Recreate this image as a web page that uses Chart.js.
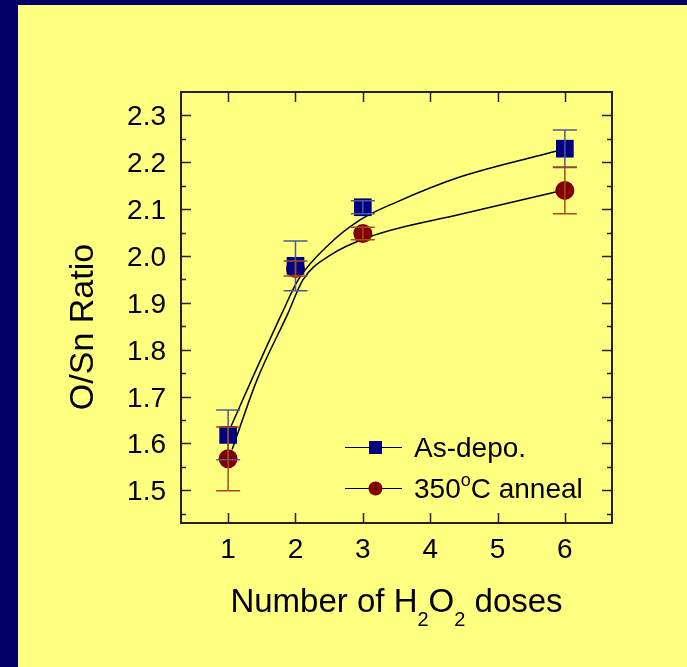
<!DOCTYPE html>
<html>
<head>
<meta charset="utf-8">
<script src="https://cdn.jsdelivr.net/npm/chart.js@4"></script>
<style>
  html, body { margin: 0; padding: 0; background: #000066; }
  #wrap { width: 687px; height: 667px; position: relative; }
</style>
</head>
<body>
<div id="wrap"><canvas id="oxChart"></canvas></div>
<script>
// data
const doses = [1, 2, 3, 6];
const asDepo = [1.618, 1.979, 2.104, 2.229];
const asDepoErr = [0.053, 0.053, 0.014, 0.04];
const annealed = [1.567, 1.973, 2.048, 2.140];
const annealedErr = [0.068, 0.016, 0.0135, 0.05];

// fitted curves
const fitAsDepoX = [1.045, 1.35, 1.8, 2.04, 2.5, 2.96, 3.5, 4.45, 5.88];
const fitAsDepoY = [1.637, 1.736, 1.878, 1.949, 2.025, 2.077, 2.115, 2.169, 2.224];
const fitAnnealX = [1.06, 1.43, 1.89, 2.11, 2.5, 3.1, 4.45, 5.88];
const fitAnnealY = [1.587, 1.736, 1.878, 1.949, 2.0, 2.041, 2.089, 2.137];

const xTicks = [1, 2, 3, 4, 5, 6];
const yTicks = [1.5, 1.6, 1.7, 1.8, 1.9, 2.0, 2.1, 2.2, 2.3];
const yMinorTicks = [1.45, 1.55, 1.65, 1.75, 1.85, 1.95, 2.05, 2.15, 2.25];

const seriesNames = ['As-depo.', '350', 'C anneal'];

const FONT = "'Liberation Sans', Arial, sans-serif";
const navy = '#000080';
const maroon = '#800000';

function pts(xs, ys) {
  return xs.map((x, i) => ({ x: x, y: ys[i] }));
}

// fond + cadre + axes + légende
const decor = {
  id: 'decor',
  beforeDraw(chart) {
    const c = chart.ctx;
    c.save();
    c.fillStyle = '#000066';
    c.fillRect(0, 0, chart.width, chart.height);
    c.fillStyle = '#FFFF80';
    c.fillRect(18, 5, chart.width - 18, chart.height - 5);
    c.restore();
  },
  afterDatasetsDraw(chart) {
    // barres d'erreur par-dessus les symboles
    const c = chart.ctx, xs = chart.scales.x, ys = chart.scales.y;
    const drawErr = (vals, errs, color) => {
      c.strokeStyle = color;
      c.lineWidth = 1.5;
      vals.forEach((v, i) => {
        const px = xs.getPixelForValue(doses[i]);
        const top = ys.getPixelForValue(v + errs[i]);
        const bot = ys.getPixelForValue(v - errs[i]);
        c.beginPath();
        c.moveTo(px, top); c.lineTo(px, bot);
        c.moveTo(px - 12, top); c.lineTo(px + 12, top);
        c.moveTo(px - 12, bot); c.lineTo(px + 12, bot);
        c.stroke();
      });
    };
    c.save();
    drawErr(asDepo, asDepoErr, '#4d5a94');
    drawErr(annealed, annealedErr, '#a8481e');
    c.restore();
  },
  afterDraw(chart) {
    const c = chart.ctx, a = chart.chartArea;
    const xs = chart.scales.x, ys = chart.scales.y;
    c.save();
    c.strokeStyle = '#222';
    c.lineWidth = 2;
    c.strokeRect(a.left, a.top, a.right - a.left, a.bottom - a.top);

    // graduations vers l'intérieur
    c.lineWidth = 1.5;
    c.beginPath();
    xTicks.forEach(t => {
      const px = Math.round(xs.getPixelForValue(t)) + 0.5;
      c.moveTo(px, a.bottom); c.lineTo(px, a.bottom - 10);
      c.moveTo(px, a.top); c.lineTo(px, a.top + 10);
    });
    yTicks.forEach(t => {
      const py = Math.round(ys.getPixelForValue(t)) + 0.5;
      c.moveTo(a.left, py); c.lineTo(a.left + 10, py);
      c.moveTo(a.right, py); c.lineTo(a.right - 10, py);
    });
    yMinorTicks.forEach(t => {
      const py = Math.round(ys.getPixelForValue(t)) + 0.5;
      c.moveTo(a.left, py); c.lineTo(a.left + 5, py);
      c.moveTo(a.right, py); c.lineTo(a.right - 5, py);
    });
    c.stroke();

    // étiquettes
    c.fillStyle = '#000';
    c.font = '28px ' + FONT;
    c.textAlign = 'center';
    c.textBaseline = 'alphabetic';
    xTicks.forEach(t => c.fillText(String(t), xs.getPixelForValue(t), 558));
    c.textAlign = 'right';
    yTicks.forEach(t => c.fillText(t.toFixed(1), 166, ys.getPixelForValue(t) + 10));

    // titre X avec indices
    const parts = [
      { t: 'Number of H', f: '33px ' + FONT, dy: 0 },
      { t: '2', f: '20px ' + FONT, dy: 14 },
      { t: 'O', f: '33px ' + FONT, dy: 0 },
      { t: '2', f: '20px ' + FONT, dy: 14 },
      { t: ' doses', f: '33px ' + FONT, dy: 0 }
    ];
    let w = 0;
    parts.forEach(p => { c.font = p.f; p.w = c.measureText(p.t).width; w += p.w; });
    let x0 = (a.left + a.right) / 2 - w / 2;
    c.textAlign = 'left';
    parts.forEach(p => { c.font = p.f; c.fillText(p.t, x0, 612 + p.dy); x0 += p.w; });

    // titre Y
    c.save();
    c.translate(93, 327);
    c.rotate(-Math.PI / 2);
    c.font = '34px ' + FONT;
    c.textAlign = 'center';
    c.fillText('O/Sn Ratio', 0, 0);
    c.restore();

    // légende
    const rows = [
      { y: 447.5, ds: chart.data.datasets[0] },
      { y: 488.5, ds: chart.data.datasets[1] }
    ];
    rows.forEach(r => {
      c.strokeStyle = '#000';
      c.lineWidth = 1;
      c.beginPath();
      c.moveTo(345, r.y); c.lineTo(402, r.y);
      c.stroke();
      c.fillStyle = r.ds.backgroundColor;
      if (r.ds.pointStyle === 'rect') {
        c.fillRect(369, r.y - 6.5, 13, 13);
      } else {
        c.beginPath(); c.arc(375.5, r.y, 7, 0, Math.PI * 2); c.fill();
      }
    });
    c.fillStyle = '#000';
    c.textAlign = 'left';
    c.font = '28px ' + FONT;
    c.fillText(seriesNames[0], 414, 457);
    c.fillText(seriesNames[1], 414, 497.5);
    let sx = 414 + c.measureText(seriesNames[1]).width;
    c.font = '18px ' + FONT;
    c.fillText('o', sx, 485.5);
    sx += c.measureText('o').width;
    c.font = '28px ' + FONT;
    c.fillText(seriesNames[2], sx, 497.5);
    c.restore();
  }
};

const ctx = document.getElementById('oxChart').getContext('2d');
new Chart(ctx, {
  type: 'scatter',
  data: {
    datasets: [
      {
        label: 'As-depo.',
        data: pts(doses, asDepo),
        pointStyle: 'rect',
        pointRadius: 12.5,
        backgroundColor: navy,
        borderColor: navy,
        borderWidth: 0,
        order: 0
      },
      {
        label: '350°C anneal',
        data: pts(doses, annealed),
        pointStyle: 'circle',
        pointRadius: 9.5,
        backgroundColor: maroon,
        borderColor: maroon,
        borderWidth: 0,
        order: 1
      },
      {
        type: 'line',
        data: pts(fitAsDepoX, fitAsDepoY),
        borderColor: '#000',
        borderWidth: 1.5,
        pointRadius: 0,
        cubicInterpolationMode: 'monotone',
        fill: false,
        order: 2
      },
      {
        type: 'line',
        data: pts(fitAnnealX, fitAnnealY),
        borderColor: '#000',
        borderWidth: 1.5,
        pointRadius: 0,
        cubicInterpolationMode: 'monotone',
        fill: false,
        order: 3
      }
    ]
  },
  options: {
    responsive: true,
    maintainAspectRatio: false,
    animation: false,
    layout: { padding: { left: 181, top: 92, right: 75, bottom: 144 } },
    scales: {
      x: { type: 'linear', min: 0.3, max: 6.7, display: false },
      y: { type: 'linear', min: 1.43, max: 2.35, display: false }
    },
    plugins: { legend: { display: false }, tooltip: { enabled: false } }
  },
  plugins: [decor]
});
</script>
</body>
</html>
